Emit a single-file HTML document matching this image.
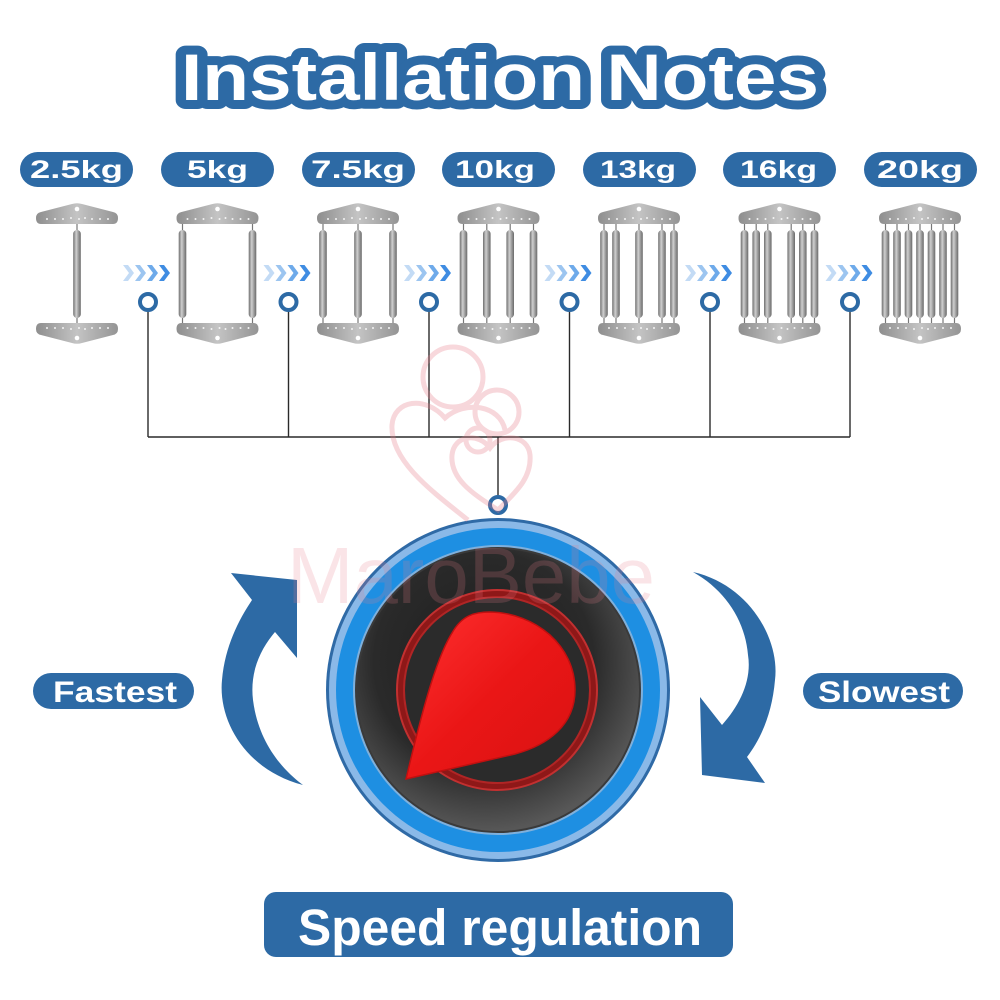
<!DOCTYPE html>
<html><head><meta charset="utf-8"><style>
html,body{margin:0;padding:0;background:#fff;}
svg{display:block;}
text{font-family:"Liberation Sans",sans-serif;font-weight:bold;}
</style></head><body>
<svg width="1000" height="1000" viewBox="0 0 1000 1000" xmlns="http://www.w3.org/2000/svg">
<defs>
  <linearGradient id="plateG" x1="0" y1="0" x2="1" y2="0">
    <stop offset="0" stop-color="#8e8e8e"/><stop offset="0.5" stop-color="#c4c4c4"/><stop offset="1" stop-color="#949494"/>
  </linearGradient>
  <linearGradient id="springG" x1="0" y1="0" x2="1" y2="0">
    <stop offset="0" stop-color="#6e6e6e"/><stop offset="0.4" stop-color="#cfcfcf"/><stop offset="0.7" stop-color="#9a9a9a"/><stop offset="1" stop-color="#6a6a6a"/>
  </linearGradient>
  <radialGradient id="discG" cx="0.45" cy="0.4" r="0.6">
    <stop offset="0" stop-color="#1e1e1e"/><stop offset="0.65" stop-color="#2a2a2a"/><stop offset="1" stop-color="#575757"/>
  </radialGradient>
  <linearGradient id="dropG" x1="0" y1="0" x2="1" y2="1">
    <stop offset="0" stop-color="#ff3030"/><stop offset="0.5" stop-color="#ea1616"/><stop offset="1" stop-color="#d81212"/>
  </linearGradient>
  <g id="plateTop">
    <path d="M-36 224 L36 224 Q41 224 41 218 Q41 213 36 212 L5 204 Q0 202.5 -5 204 L-36 212 Q-41 213 -41 218 Q-41 224 -36 224 Z" fill="url(#plateG)"/>
    <circle cx="0" cy="209" r="2.3" fill="#fff"/>
    <g fill="#f4f4f4">
      <circle cx="-30" cy="219" r="1"/><circle cx="-22" cy="219" r="1"/><circle cx="-14" cy="219" r="1"/><circle cx="-6" cy="218" r="1"/><circle cx="2" cy="219" r="1"/><circle cx="8" cy="218" r="1"/><circle cx="15" cy="219" r="1"/><circle cx="23" cy="219" r="1"/><circle cx="31" cy="219" r="1"/>
    </g>
  </g>
  <g id="spring">
    <line x1="0" y1="222" x2="0" y2="232" stroke="#777" stroke-width="1.2"/>
    <line x1="0" y1="316" x2="0" y2="325" stroke="#777" stroke-width="1.2"/>
    <rect x="-3.8" y="230" width="7.6" height="88" rx="3.8" fill="url(#springG)"/>
  </g>
  <g id="chev">
    <polygon points="0,0 5,0 11,8 5,16 0,16 6,8" fill="#c3dbf5"/>
    <polygon points="12,0 17,0 23,8 17,16 12,16 18,8" fill="#9cc5f0"/>
    <polygon points="24,0 29,0 35,8 29,16 24,16 30,8" fill="#6eaaea"/>
    <polygon points="36,0 41,0 47,8 41,16 36,16 42,8" fill="#3f8ce2"/>
  </g>
</defs>

<!-- Title -->
<text x="181" y="100" font-size="66" textLength="638" lengthAdjust="spacingAndGlyphs" fill="#fff" stroke="#2d6aa5" stroke-width="18" stroke-linejoin="round" paint-order="stroke">Installation Notes</text>

<!-- weight pills -->
<g fill="#2d6aa5">
  <rect x="20" y="152" width="113" height="35" rx="17.5"/>
  <rect x="161" y="152" width="113" height="35" rx="17.5"/>
  <rect x="302" y="152" width="113" height="35" rx="17.5"/>
  <rect x="442" y="152" width="113" height="35" rx="17.5"/>
  <rect x="583" y="152" width="113" height="35" rx="17.5"/>
  <rect x="723" y="152" width="113" height="35" rx="17.5"/>
  <rect x="864" y="152" width="113" height="35" rx="17.5"/>
</g>
<g fill="#fff" font-size="25">
  <text x="30" y="178" textLength="93" lengthAdjust="spacingAndGlyphs">2.5kg</text>
  <text x="187" y="178" textLength="61" lengthAdjust="spacingAndGlyphs">5kg</text>
  <text x="311" y="178" textLength="94" lengthAdjust="spacingAndGlyphs">7.5kg</text>
  <text x="455" y="178" textLength="80" lengthAdjust="spacingAndGlyphs">10kg</text>
  <text x="600" y="178" textLength="76" lengthAdjust="spacingAndGlyphs">13kg</text>
  <text x="740" y="178" textLength="77" lengthAdjust="spacingAndGlyphs">16kg</text>
  <text x="877" y="178" textLength="86" lengthAdjust="spacingAndGlyphs">20kg</text>
</g>

<!-- spring assemblies -->
<g transform="translate(77,0)">
  <use href="#spring" x="0"/>
  <use href="#plateTop"/><use href="#plateTop" transform="translate(0,547) scale(1,-1)"/>
</g>
<g transform="translate(217.5,0)">
  <use href="#spring" x="-35"/><use href="#spring" x="35"/>
  <use href="#plateTop"/><use href="#plateTop" transform="translate(0,547) scale(1,-1)"/>
</g>
<g transform="translate(358,0)">
  <use href="#spring" x="-35"/><use href="#spring" x="0"/><use href="#spring" x="35"/>
  <use href="#plateTop"/><use href="#plateTop" transform="translate(0,547) scale(1,-1)"/>
</g>
<g transform="translate(498.5,0)">
  <use href="#spring" x="-35"/><use href="#spring" x="-11.7"/><use href="#spring" x="11.7"/><use href="#spring" x="35"/>
  <use href="#plateTop"/><use href="#plateTop" transform="translate(0,547) scale(1,-1)"/>
</g>
<g transform="translate(639,0)">
  <use href="#spring" x="-35"/><use href="#spring" x="-23"/><use href="#spring" x="0"/><use href="#spring" x="23"/><use href="#spring" x="35"/>
  <use href="#plateTop"/><use href="#plateTop" transform="translate(0,547) scale(1,-1)"/>
</g>
<g transform="translate(779.5,0)">
  <use href="#spring" x="-35"/><use href="#spring" x="-23.3"/><use href="#spring" x="-11.7"/><use href="#spring" x="11.7"/><use href="#spring" x="23.3"/><use href="#spring" x="35"/>
  <use href="#plateTop"/><use href="#plateTop" transform="translate(0,547) scale(1,-1)"/>
</g>
<g transform="translate(920,0)">
  <use href="#spring" x="-34.5"/><use href="#spring" x="-23"/><use href="#spring" x="-11.5"/><use href="#spring" x="0"/><use href="#spring" x="11.5"/><use href="#spring" x="23"/><use href="#spring" x="34.5"/>
  <use href="#plateTop"/><use href="#plateTop" transform="translate(0,547) scale(1,-1)"/>
</g>

<!-- chevrons -->
<use href="#chev" x="123" y="265"/>
<use href="#chev" x="263.5" y="265"/>
<use href="#chev" x="404" y="265"/>
<use href="#chev" x="544.5" y="265"/>
<use href="#chev" x="685" y="265"/>
<use href="#chev" x="825.5" y="265"/>

<!-- connector lines -->
<g stroke="#2a2a2a" stroke-width="1.4" fill="none">
  <line x1="148" y1="310" x2="148" y2="437"/>
  <line x1="288.5" y1="310" x2="288.5" y2="437"/>
  <line x1="429" y1="310" x2="429" y2="437"/>
  <line x1="569.5" y1="310" x2="569.5" y2="437"/>
  <line x1="710" y1="310" x2="710" y2="437"/>
  <line x1="850" y1="310" x2="850" y2="437"/>
  <line x1="148" y1="437" x2="850" y2="437"/>
  <line x1="498" y1="437" x2="498" y2="497"/>
</g>
<g fill="#fff" stroke="#2d6aa5" stroke-width="4">
  <circle cx="148" cy="302" r="8"/>
  <circle cx="288.5" cy="302" r="8"/>
  <circle cx="429" cy="302" r="8"/>
  <circle cx="569.5" cy="302" r="8"/>
  <circle cx="710" cy="302" r="8"/>
  <circle cx="850" cy="302" r="8"/>
  <circle cx="498" cy="505" r="8"/>
</g>

<!-- knob -->
<circle cx="498" cy="690" r="172" fill="#2f6aa6"/>
<circle cx="498" cy="690" r="169" fill="#8ab9e8"/>
<circle cx="498" cy="690" r="162" fill="#1e8fe2"/>
<circle cx="498" cy="690" r="145" fill="#7fb0dc"/>
<circle cx="498" cy="690" r="143" fill="#3a3a3a"/>
<circle cx="498" cy="690" r="141" fill="url(#discG)"/>
<circle cx="497" cy="690" r="101" fill="#c23030"/>
<circle cx="497" cy="690" r="99" fill="#8e1818"/>
<circle cx="497" cy="690" r="94" fill="#b02525"/>
<circle cx="497" cy="690" r="92" fill="#2b2b2b"/>
<path d="M406 779 C420 720 435 660 452 633 C462 615 475 612 490 612 C535 613 575 645 575 690 C575 725 548 745 515 754 L406 779 Z" fill="url(#dropG)" stroke="#c01010" stroke-width="1.5"/>

<!-- curved arrows -->
<path d="M303 785 C245 770 218 720 222 680 C225 645 240 618 252 600 L231 573 L297 580 L297 658 L275 632 C258 652 250 675 253 700 C258 740 280 768 303 785 Z" fill="#2d6aa5"/>
<path d="M693 572 C750 585 780 640 775 680 C772 715 760 740 747 757 L765 783 L702 775 L700 697 L722 725 C740 705 752 680 748 655 C745 620 725 590 693 572 Z" fill="#2d6aa5"/>

<!-- side labels -->
<rect x="33" y="673" width="161" height="36" rx="18" fill="#2d6aa5"/>
<text x="53" y="702" font-size="30" fill="#fff" textLength="124" lengthAdjust="spacingAndGlyphs">Fastest</text>
<rect x="803" y="673" width="160" height="36" rx="18" fill="#2d6aa5"/>
<text x="818" y="702" font-size="30" fill="#fff" textLength="132" lengthAdjust="spacingAndGlyphs">Slowest</text>

<!-- bottom label -->
<rect x="264" y="892" width="469" height="65" rx="12" fill="#2d6aa5"/>
<text x="298" y="945" font-size="51" fill="#fff" textLength="404" lengthAdjust="spacingAndGlyphs">Speed regulation</text>

<!-- watermark -->
<g opacity="0.3" fill="none" stroke="#e77d8a" stroke-width="5">
  <circle cx="453" cy="377" r="30"/>
  <circle cx="497" cy="412" r="22"/>
  <path d="M468 520 C430 490 390 460 392 425 C394 400 425 395 445 418 C465 400 500 405 505 430"/>
  <path d="M498 510 C475 495 450 480 452 455 C454 435 478 432 490 448 C502 432 528 435 530 455 C532 480 512 495 498 510 Z"/>
  <circle cx="478" cy="440" r="12"/>
</g>
<text x="287" y="603" font-size="80" style="font-weight:normal" fill="#e77d8a" opacity="0.2" textLength="368" lengthAdjust="spacingAndGlyphs">MaroBebe</text>
</svg>
</body></html>
